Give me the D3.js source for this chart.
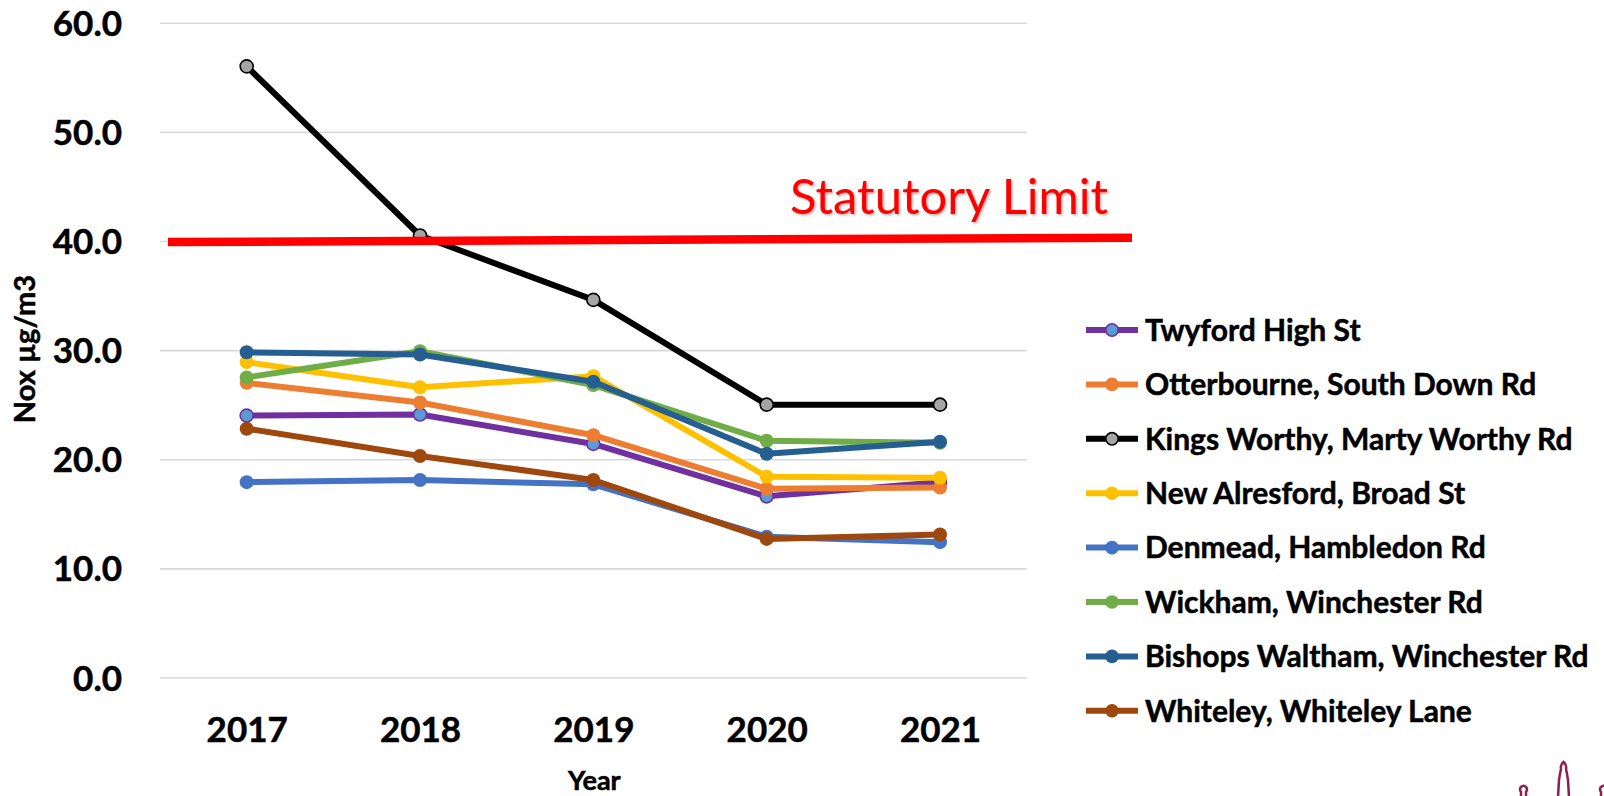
<!DOCTYPE html>
<html>
<head>
<meta charset="utf-8">
<script src="https://cdn.jsdelivr.net/npm/d3@7"></script>
<style>
  body { margin: 0; background: #ffffff; }
  svg { display: block; }
  text { font-family: Lato, "Open Sans", sans-serif; }
  .heavy { stroke: #000000; stroke-width: 0.5px; }
</style>
</head>
<body>
<div class="graphContainer"></div>
<script>
// values
const years = ["2017", "2018", "2019", "2020", "2021"];
const yTicks = [0, 10, 20, 30, 40, 50, 60];

const siteNames = [
  "Twyford High St",
  "Otterbourne, South Down Rd",
  "Kings Worthy, Marty Worthy Rd",
  "New Alresford, Broad St",
  "Denmead, Hambledon Rd",
  "Wickham, Winchester Rd",
  "Bishops Waltham, Winchester Rd",
  "Whiteley, Whiteley Lane"
];

const twyford        = [24.0, 24.1, 21.4, 16.6, 17.9];
const otterbourne    = [27.0, 25.2, 22.2, 17.3, 17.4];
const kingsWorthy    = [56.0, 40.5, 34.6, 25.0, 25.0];
const newAlresford   = [28.9, 26.6, 27.6, 18.4, 18.3];
const denmead        = [17.9, 18.1, 17.7, 12.9, 12.4];
const wickham        = [27.5, 29.9, 26.8, 21.7, 21.5];
const bishopsWaltham = [29.8, 29.6, 27.1, 20.5, 21.6];
const whiteley       = [22.8, 20.3, 18.1, 12.7, 13.1];

// the hand drawn limit line, left end and right end (slightly tilted)
const statutoryLimit = [39.9, 40.3];

const lineColors   = ["#7030A0", "#ED7D31", "#000000", "#FFC000", "#4472C4", "#70AD47", "#255E91", "#9E480E"];
const markerColors = ["#5B9BD5", "#ED7D31", "#A5A5A5", "#FFC000", "#4472C4", "#70AD47", "#255E91", "#9E480E"];
const markerStrokes = ["#7030A0", null, "#000000", null, null, null, null, null];

function drawChart() {
  const w = 1604,
    h = 796,
    left = 160,
    right = 1026.7,
    top = 22.7,
    bottom = 677.5;

  const seriesValues = [twyford, otterbourne, kingsWorthy, newAlresford, denmead, wickham, bishopsWaltham, whiteley];
  const series = siteNames.map(function (name, i) {
    return { name: name, values: seriesValues[i], line: lineColors[i], fill: markerColors[i], stroke: markerStrokes[i] };
  });

  const x = d3.scalePoint()
    .domain(years)
    .range([left, right])
    .padding(0.5);

  const y = d3.scaleLinear()
    .domain([0, 60])
    .range([bottom, top]);

  const canvas = d3.select(".graphContainer")
    .append("svg")
    .attr("width", w)
    .attr("height", h);

  canvas.append("rect")
    .attr("width", w)
    .attr("height", h)
    .attr("fill", "#ffffff");

  const defs = canvas.append("defs");
  defs.append("filter")
    .attr("id", "shadow")
    .attr("x", "-5%").attr("y", "-20%")
    .attr("width", "110%").attr("height", "140%")
    .append("feDropShadow")
    .attr("dx", 1.5)
    .attr("dy", 1.5)
    .attr("stdDeviation", 1)
    .attr("flood-color", "#000000")
    .attr("flood-opacity", 0.3);

  // y axis with gridlines
  const yAxis = d3.axisLeft(y)
    .tickValues(yTicks)
    .tickSize(-(right - left))
    .tickPadding(38)
    .tickFormat(d3.format(".1f"));

  const yg = canvas.append("g")
    .attr("transform", "translate(" + left + ",0)")
    .call(yAxis);
  yg.select(".domain").remove();
  yg.selectAll(".tick line")
    .attr("stroke", "#d9d9d9")
    .attr("stroke-width", 1.6);
  yg.selectAll(".tick text")
    .attr("class", "heavy")
    .attr("fill", "#000000")
    .attr("font-size", 35)
    .attr("font-weight", "bold")
    .attr("dy", "0.36em");

  // x axis labels
  const xAxis = d3.axisBottom(x)
    .tickSize(0)
    .tickPadding(0);

  const xg = canvas.append("g")
    .attr("transform", "translate(0," + bottom + ")")
    .call(xAxis);
  xg.select(".domain").remove();
  xg.selectAll(".tick text")
    .attr("class", "heavy")
    .attr("fill", "#000000")
    .attr("font-size", 35)
    .attr("font-weight", "bold")
    .attr("y", 64.5)
    .attr("dy", 0);

  // axis titles
  canvas.append("text")
    .attr("class", "heavy")
    .attr("x", (left + right) / 2 + 1)
    .attr("y", 790)
    .attr("text-anchor", "middle")
    .attr("font-size", 27)
    .attr("font-weight", "bold")
    .text("Year");

  canvas.append("text")
    .attr("class", "heavy")
    .attr("transform", "translate(35,349) rotate(-90)")
    .attr("text-anchor", "middle")
    .attr("font-size", 29)
    .attr("font-weight", "bold")
    .text("Nox µg/m3");

  // series lines and markers
  const line = d3.line()
    .x(function (d, i) { return x(years[i]); })
    .y(function (d) { return y(d); });

  const groups = canvas.selectAll("g.series")
    .data(series)
    .enter()
    .append("g")
    .attr("class", "series");

  groups.append("path")
    .attr("d", function (d) { return line(d.values); })
    .attr("fill", "none")
    .attr("stroke", function (d) { return d.line; })
    .attr("stroke-width", 6)
    .attr("stroke-linejoin", "round");

  groups.selectAll("circle")
    .data(function (d) { return d.values.map(function (v) { return { v: v, s: d }; }); })
    .enter()
    .append("circle")
    .attr("cx", function (d, i) { return x(years[i]); })
    .attr("cy", function (d) { return y(d.v); })
    .attr("r", function (d) { return d.s.stroke ? 6.5 : 7; })
    .attr("fill", function (d) { return d.s.fill; })
    .attr("stroke", function (d) { return d.s.stroke || "none"; })
    .attr("stroke-width", 1.6);

  // statutory limit line and label
  canvas.append("line")
    .attr("x1", left + 8)
    .attr("x2", 1132)
    .attr("y1", y(statutoryLimit[0]))
    .attr("y2", y(statutoryLimit[1]))
    .attr("stroke", "#FF0000")
    .attr("stroke-width", 8.5);

  canvas.append("text")
    .attr("x", 790)
    .attr("y", 214)
    .attr("fill", "#FF0000")
    .attr("font-size", 49)
    .attr("filter", "url(#shadow)")
    .text("Statutory Limit");

  // legend
  const legend = canvas.selectAll("g.legend")
    .data(series)
    .enter()
    .append("g")
    .attr("class", "legend")
    .attr("transform", function (d, i) {
      return "translate(1086," + (330 + i * 54.4) + ")";
    });

  legend.append("line")
    .attr("x1", 0)
    .attr("x2", 52)
    .attr("stroke", function (d) { return d.line; })
    .attr("stroke-width", 6);

  legend.append("circle")
    .attr("cx", 26)
    .attr("r", function (d) { return d.stroke ? 6.2 : 6.8; })
    .attr("fill", function (d) { return d.fill; })
    .attr("stroke", function (d) { return d.stroke || "none"; })
    .attr("stroke-width", 1.6);

  legend.append("text")
    .attr("class", "heavy")
    .attr("x", 59)
    .attr("dy", "0.36em")
    .attr("font-size", 30)
    .attr("font-weight", "bold")
    .text(function (d) { return d.name; });

  // corner of a logo, cut off by the edge of the picture
  const logo = canvas.append("g")
    .attr("fill", "none")
    .attr("stroke", "#8E1F4F")
    .attr("stroke-width", 2.5);
  logo.append("path")
    .attr("d", "M1521,797 L1521,792 Q1519,789 1521,787 Q1523.5,784.5 1526,787 Q1528,789 1526,792 L1526,797");
  logo.append("path")
    .attr("d", "M1558,797 L1559,780 Q1560,773 1561,769 Q1560,765 1563.5,762 Q1567,765 1566,769 Q1567,773 1568,780 L1569,797");
  logo.append("path")
    .attr("d", "M1601,797 L1601,792 Q1599,789 1601,787 Q1603.5,784.5 1606,787");
}

drawChart();
</script>
</body>
</html>
